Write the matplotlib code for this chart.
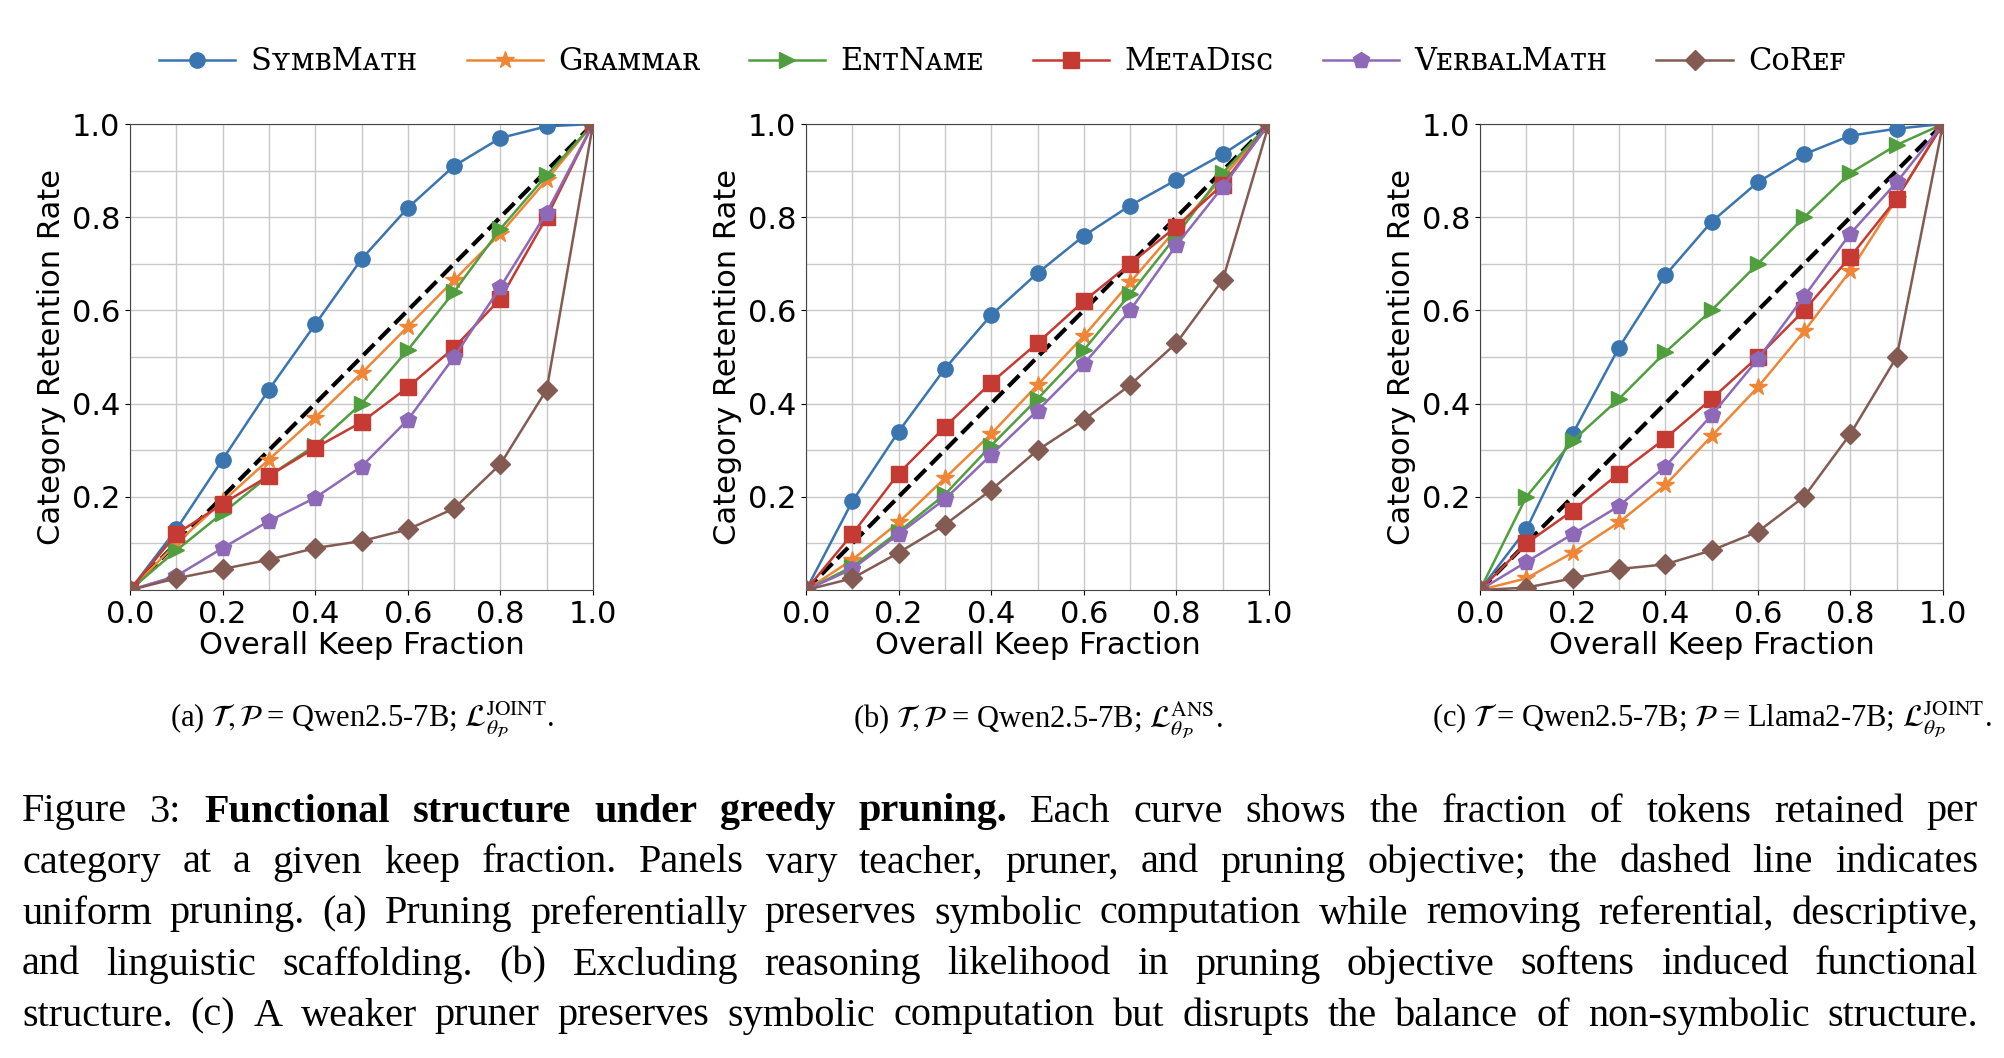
import matplotlib
matplotlib.use("Agg")
import matplotlib.pyplot as plt
import numpy as np

plt.rcParams['mathtext.fontset'] = 'stix'

x = [0.0, 0.1, 0.2, 0.3, 0.4, 0.5, 0.6, 0.7, 0.8, 0.9, 1.0]
categories = ["SʏᴍʙMᴀᴛʜ", "Gʀᴀᴍᴍᴀʀ", "EɴᴛNᴀᴍᴇ", "MᴇᴛᴀDɪꜱᴄ", "VᴇʀʙᴀʟMᴀᴛʜ", "CᴏRᴇꜰ"]

panel_a = {
    "SymbMath":   [0, 0.13, 0.28, 0.43, 0.57, 0.71, 0.82, 0.91, 0.97, 0.995, 1],
    "Grammar":    [0, 0.10, 0.19, 0.28, 0.37, 0.465, 0.565, 0.665, 0.765, 0.88, 1],
    "EntName":    [0, 0.085, 0.165, 0.245, 0.31, 0.40, 0.515, 0.64, 0.775, 0.89, 1],
    "MetaDisc":   [0, 0.12, 0.185, 0.245, 0.305, 0.36, 0.435, 0.52, 0.625, 0.80, 1],
    "VerbalMath": [0, 0.03, 0.09, 0.148, 0.198, 0.265, 0.365, 0.50, 0.65, 0.81, 1],
    "CoRef":      [0, 0.025, 0.045, 0.065, 0.09, 0.105, 0.13, 0.175, 0.27, 0.43, 1],
}
panel_b = {
    "SymbMath":   [0, 0.19, 0.34, 0.475, 0.59, 0.68, 0.76, 0.825, 0.88, 0.935, 1],
    "Grammar":    [0, 0.065, 0.145, 0.24, 0.335, 0.44, 0.545, 0.66, 0.775, 0.885, 1],
    "EntName":    [0, 0.05, 0.125, 0.205, 0.31, 0.41, 0.515, 0.635, 0.76, 0.895, 1],
    "MetaDisc":   [0, 0.12, 0.25, 0.35, 0.445, 0.53, 0.62, 0.70, 0.78, 0.87, 1],
    "VerbalMath": [0, 0.045, 0.12, 0.195, 0.29, 0.385, 0.485, 0.60, 0.74, 0.865, 1],
    "CoRef":      [0, 0.025, 0.08, 0.14, 0.215, 0.30, 0.365, 0.44, 0.53, 0.665, 1],
}
panel_c = {
    "SymbMath":   [0, 0.13, 0.335, 0.52, 0.675, 0.79, 0.875, 0.935, 0.975, 0.99, 1],
    "Grammar":    [0, 0.025, 0.08, 0.145, 0.225, 0.33, 0.435, 0.555, 0.685, 0.84, 1],
    "EntName":    [0, 0.20, 0.32, 0.41, 0.51, 0.60, 0.70, 0.80, 0.895, 0.955, 1],
    "MetaDisc":   [0, 0.10, 0.17, 0.25, 0.325, 0.41, 0.50, 0.60, 0.715, 0.84, 1],
    "VerbalMath": [0, 0.06, 0.12, 0.18, 0.265, 0.375, 0.495, 0.63, 0.765, 0.875, 1],
    "CoRef":      [0, 0.005, 0.025, 0.045, 0.055, 0.085, 0.125, 0.20, 0.335, 0.50, 1],
}
subcaptions = [
    r"(a) $\mathcal{T}, \mathcal{P}$ = Qwen2.5-7B; $\mathcal{L}^{\mathrm{JOINT}}_{\theta_{\mathcal{P}}}$.",
    r"(b) $\mathcal{T}, \mathcal{P}$ = Qwen2.5-7B; $\mathcal{L}^{\mathrm{ANS}}_{\theta_{\mathcal{P}}}$.",
    r"(c) $\mathcal{T}$ = Qwen2.5-7B; $\mathcal{P}$ = Llama2-7B; $\mathcal{L}^{\mathrm{JOINT}}_{\theta_{\mathcal{P}}}$.",
]
caption_lines = [
    [("Figure 3:", "normal"), ("Functional structure under greedy pruning.", "bold"),
     ("Each curve shows the fraction of tokens retained per", "normal")],
    [("category at a given keep fraction. Panels vary teacher, pruner, and pruning objective; the dashed line indicates", "normal")],
    [("uniform pruning. (a) Pruning preferentially preserves symbolic computation while removing referential, descriptive,", "normal")],
    [("and linguistic scaffolding. (b) Excluding reasoning likelihood in pruning objective softens induced functional", "normal")],
    [("structure. (c) A weaker pruner preserves symbolic computation but disrupts the balance of non-symbolic structure.", "normal")],
]

colors = ["#3b75af", "#ef8636", "#519e3e", "#c53a32", "#8d69b8", "#845b53"]
markers = ["o", "*", ">", "s", "p", "D"]
msizes = [11, 13, 12, 11, 12, 10]

W, H = 2004, 1058
fig = plt.figure(figsize=(W/100, H/100), dpi=100)
lefts = [130, 806, 1480]
handles = []
for pi, (data, left) in enumerate(zip([panel_a, panel_b, panel_c], lefts)):
    ax = fig.add_axes([left/W, 1-590/H, 463/W, 466/H])
    ax.plot([0, 1], [0, 1], "k--", lw=3, zorder=2)
    for i, key in enumerate(data):
        h, = ax.plot(x, data[key], color=colors[i], marker=markers[i], ms=msizes[i],
                     lw=1.8, label=categories[i], zorder=3)
        if pi == 0:
            handles.append(h)
    ax.set_xlim(0, 1); ax.set_ylim(0, 1)
    ax.set_xticks(np.arange(0, 1.01, 0.2))
    ax.set_xticks(np.arange(0.1, 1.0, 0.2), minor=True)
    ax.set_yticks(np.arange(0.2, 1.01, 0.2))
    ax.set_yticks(np.arange(0.1, 1.0, 0.1), minor=True)
    ax.set_xticklabels(["0.0", "0.2", "0.4", "0.6", "0.8", "1.0"])
    ax.grid(True, which="both", color="#c8c8c8", lw=1.0)
    ax.tick_params(which="minor", length=0)
    ax.tick_params(labelsize=22)
    for s in ax.spines.values():
        s.set_color("#444444")
    ax.set_xlabel("Overall Keep Fraction", fontsize=22, labelpad=2)
    ax.set_ylabel("Category Retention Rate", fontsize=22, labelpad=4)
    fig.text((left + 232)/W, 1-720/H, subcaptions[pi], ha="center", va="center",
             fontsize=22, family="Liberation Serif")

fig.legend(handles=handles, loc="center", bbox_to_anchor=(0.5, 1-62/H), ncol=6,
           frameon=False, prop={"family": ["DejaVu Serif", "DejaVu Sans"], "size": 22},
           handlelength=2.5, columnspacing=1.6, handletextpad=0.5)

# justified caption
fig.canvas.draw()
r = fig.canvas.get_renderer()
x0, x1 = 22, 1978
ys = [812, 863, 914, 965, 1016]
fs = 29
def wwidth(t, wt):
    tt = fig.text(0, 0, t, fontsize=fs, family="Liberation Serif", weight=wt)
    w = tt.get_window_extent(r).width
    tt.remove()
    return w
for li, segs in enumerate(caption_lines):
    words = []
    for s, wt in segs:
        for w in s.split(" "):
            words.append((w, wt))
    widths = [wwidth(w, wt) for w, wt in words]
    gap = (x1 - x0 - sum(widths)) / (len(words) - 1)
    cx = x0
    for (w, wt), ww in zip(words, widths):
        fig.text(cx/W, 1-ys[li]/H, w, fontsize=fs, family="Liberation Serif", weight=wt,
                 ha="left", va="center")
        cx += ww + gap

fig.savefig("out.png", dpi=100)
